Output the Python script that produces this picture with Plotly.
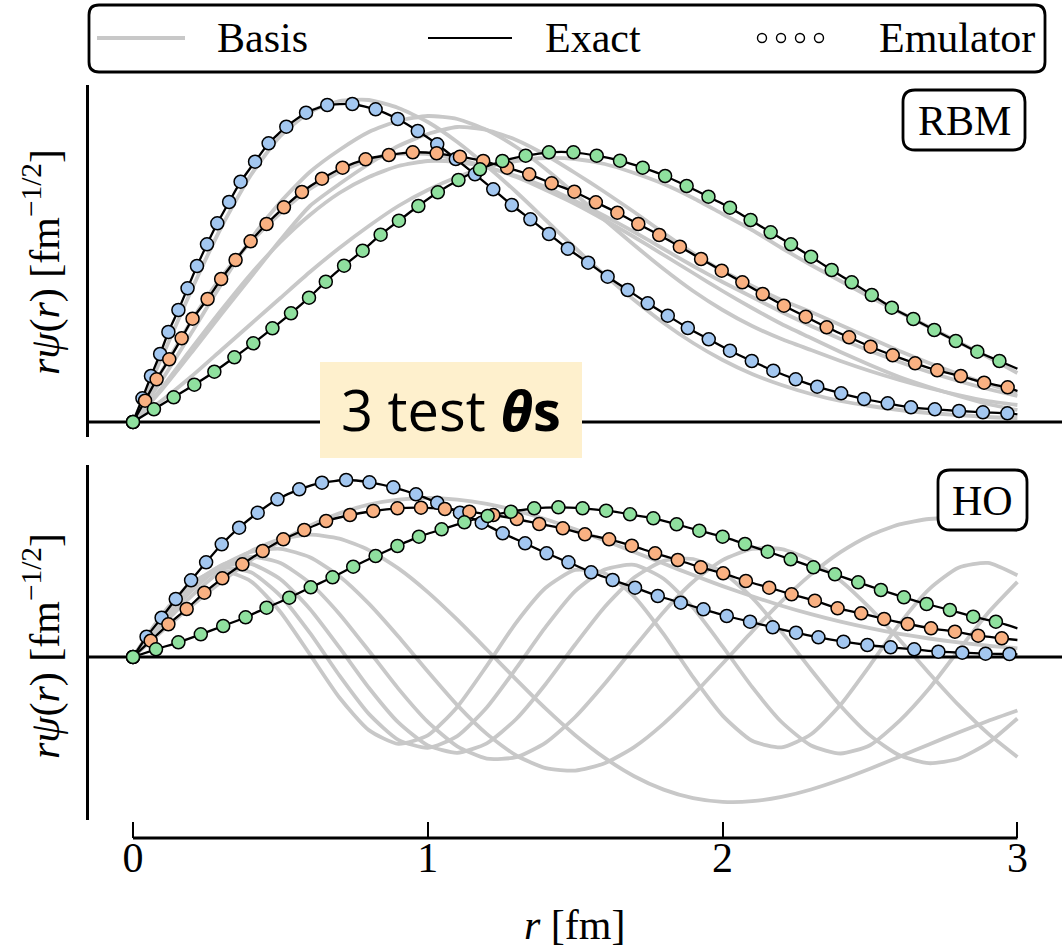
import plotly.graph_objects as go

W, H = 1064, 951

# ---------------- data (display units; rψ(r), arbitrary scale) ----------------
r_grid = [0.0, 0.1, 0.2, 0.3, 0.4, 0.5, 0.6, 0.7, 0.8, 0.9, 1.0, 1.1, 1.2, 1.3, 1.4, 1.5,
          1.6, 1.7, 1.8, 1.9, 2.0, 2.1, 2.2, 2.3, 2.4, 2.5, 2.6, 2.7, 2.8, 2.9, 3.0]

# RBM basis (training snapshots)
rbm_basis_1 = [0, 0.66, 1.33, 1.95, 2.47, 2.86, 3.10, 3.21, 3.22, 3.14, 3.00, 2.80, 2.56, 2.30, 2.02, 1.74,
               1.47, 1.22, 0.99, 0.79, 0.62, 0.48, 0.37, 0.28, 0.21, 0.16, 0.12, 0.09, 0.07, 0.05, 0.04]
rbm_basis_2 = [0, 0.43, 0.90, 1.38, 1.83, 2.20, 2.50, 2.72, 2.90, 3.01, 3.06, 3.03, 2.92, 2.75, 2.53, 2.28,
               2.02, 1.77, 1.53, 1.31, 1.12, 0.96, 0.83, 0.72, 0.61, 0.51, 0.42, 0.34, 0.27, 0.21, 0.17]
rbm_basis_3 = [0, 0.33, 0.70, 1.08, 1.45, 1.82, 2.16, 2.38, 2.58, 2.76, 2.88, 2.95, 2.92, 2.82, 2.67, 2.49,
               2.30, 2.10, 1.89, 1.69, 1.51, 1.36, 1.22, 1.10, 0.97, 0.84, 0.71, 0.59, 0.48, 0.38, 0.29]
rbm_basis_4 = [0, 0.52, 1.02, 1.45, 1.80, 2.09, 2.33, 2.50, 2.62, 2.68, 2.68, 2.63, 2.55, 2.45, 2.32, 2.18,
               2.02, 1.85, 1.67, 1.49, 1.31, 1.14, 0.98, 0.84, 0.70, 0.57, 0.45, 0.35, 0.26, 0.18, 0.12]
rbm_basis_5 = [0, 0.35, 0.74, 1.12, 1.48, 1.80, 2.07, 2.29, 2.45, 2.56, 2.61, 2.60, 2.55, 2.46, 2.35, 2.21,
               2.06, 1.90, 1.73, 1.56, 1.40, 1.25, 1.10, 0.96, 0.83, 0.71, 0.60, 0.50, 0.41, 0.33, 0.26]
rbm_basis_6 = [0, 0.22, 0.46, 0.72, 0.98, 1.24, 1.50, 1.74, 1.96, 2.16, 2.32, 2.45, 2.55, 2.61, 2.64, 2.63,
               2.58, 2.49, 2.38, 2.24, 2.08, 1.92, 1.74, 1.57, 1.41, 1.25, 1.10, 0.95, 0.80, 0.65, 0.49]

# HO basis functions n = 0..6
ho_basis_0 = [0, 0.261, 0.514, 0.752, 0.968, 1.157, 1.314, 1.436, 1.523, 1.573, 1.590, 1.574, 1.531, 1.464,
              1.377, 1.276, 1.166, 1.050, 0.934, 0.819, 0.709, 0.607, 0.513, 0.428, 0.353, 0.288, 0.232,
              0.185, 0.146, 0.113, 0.087]
ho_basis_1 = [0, 0.317, 0.613, 0.865, 1.059, 1.180, 1.223, 1.184, 1.069, 0.886, 0.649, 0.373, 0.075, -0.227,
              -0.517, -0.782, -1.009, -1.192, -1.326, -1.411, -1.448, -1.442, -1.398, -1.325, -1.228, -1.117,
              -0.997, -0.874, -0.754, -0.640, -0.535]
ho_basis_2 = [0, 0.352, 0.666, 0.908, 1.052, 1.082, 0.997, 0.808, 0.534, 0.205, -0.145, -0.481, -0.769,
              -0.985, -1.111, -1.136, -1.063, -0.901, -0.666, -0.379, -0.065, 0.254, 0.557, 0.826, 1.048,
              1.215, 1.326, 1.380, 1.383, 1.343, 1.268]
ho_basis_3 = [0, 0.378, 0.700, 0.919, 1.002, 0.939, 0.739, 0.431, 0.062, -0.316, -0.649, -0.893, -1.016,
              -1.002, -0.856, -0.600, -0.268, 0.097, 0.451, 0.752, 0.969, 1.081, 1.078, 0.968, 0.763, 0.489,
              0.172, -0.159, -0.479, -0.764, -1.000]
ho_basis_4 = [0, 0.398, 0.722, 0.911, 0.931, 0.778, 0.481, 0.096, -0.307, -0.654, -0.884, -0.958, -0.863,
              -0.620, -0.270, 0.125, 0.500, 0.794, 0.961, 0.980, 0.849, 0.593, 0.251, -0.127, -0.487, -0.784,
              -0.983, -1.062, -1.018, -0.862, -0.615]
ho_basis_5 = [0, 0.415, 0.736, 0.892, 0.847, 0.612, 0.241, -0.184, -0.569, -0.828, -0.908, -0.791, -0.505,
              -0.112, 0.301, 0.659, 0.874, 0.922, 0.783, 0.492, 0.106, -0.299, -0.650, -0.885, -0.965, -0.882,
              -0.639, -0.318, 0.065, 0.440, 0.751]
ho_basis_6 = [0, 0.429, 0.745, 0.864, 0.757, 0.450, 0.026, -0.405, -0.731, -0.869, -0.784, -0.499, -0.089,
              0.344, 0.692, 0.871, 0.838, 0.604, 0.228, -0.202, -0.586, -0.838, -0.904, -0.773, -0.478, -0.083,
              0.331, 0.677, 0.893, 0.941, 0.817]

# Test thetas: emulator points (exact curve passes through them), RBM panel
rbm_blue_r = [0, 0.032, 0.061, 0.092, 0.120, 0.154, 0.185, 0.217, 0.251, 0.286, 0.326, 0.365, 0.414, 0.460,
              0.520, 0.587, 0.659, 0.744, 0.823, 0.898, 0.966, 1.032, 1.095, 1.160, 1.222, 1.285, 1.348, 1.411,
              1.475, 1.544, 1.610, 1.678, 1.746, 1.814, 1.882, 1.953, 2.025, 2.099, 2.172, 2.248, 2.321, 2.402,
              2.480, 2.560, 2.639, 2.720, 2.802, 2.883, 2.966]
rbm_blue_y = [0, 0.237, 0.46, 0.68, 0.90, 1.12, 1.337, 1.56, 1.777, 1.987, 2.20, 2.403, 2.603, 2.787, 2.953,
              3.093, 3.17, 3.18, 3.127, 3.03, 2.91, 2.777, 2.63, 2.477, 2.327, 2.17, 2.027, 1.88, 1.733, 1.593,
              1.453, 1.32, 1.187, 1.063, 0.94, 0.827, 0.713, 0.61, 0.513, 0.427, 0.353, 0.287, 0.23, 0.187,
              0.147, 0.127, 0.11, 0.097, 0.087]
rbm_orange_r = [0, 0.041, 0.080, 0.123, 0.165, 0.202, 0.253, 0.299, 0.348, 0.399, 0.453, 0.512, 0.573, 0.641,
                0.711, 0.789, 0.868, 0.949, 1.030, 1.109, 1.188, 1.269, 1.344, 1.420, 1.497, 1.570, 1.643,
                1.714, 1.785, 1.855, 1.927, 1.997, 2.067, 2.136, 2.208, 2.282, 2.353, 2.429, 2.502, 2.577,
                2.653, 2.728, 2.808, 2.887, 2.967]
rbm_orange_y = [0, 0.213, 0.427, 0.627, 0.837, 1.033, 1.23, 1.43, 1.62, 1.807, 1.98, 2.147, 2.30, 2.433,
                2.543, 2.627, 2.67, 2.697, 2.687, 2.653, 2.61, 2.543, 2.477, 2.387, 2.303, 2.197, 2.093, 1.98,
                1.87, 1.753, 1.63, 1.513, 1.397, 1.28, 1.163, 1.053, 0.947, 0.847, 0.753, 0.667, 0.587, 0.517,
                0.46, 0.393, 0.347]
rbm_green_r = [0, 0.071, 0.138, 0.208, 0.276, 0.344, 0.408, 0.473, 0.536, 0.597, 0.654, 0.716, 0.779, 0.840,
               0.902, 0.968, 1.034, 1.104, 1.177, 1.253, 1.332, 1.411, 1.494, 1.573, 1.652, 1.729, 1.805,
               1.878, 1.952, 2.025, 2.095, 2.163, 2.232, 2.300, 2.370, 2.438, 2.506, 2.574, 2.647, 2.718,
               2.791, 2.864, 2.939]
rbm_green_y = [0, 0.127, 0.247, 0.373, 0.503, 0.647, 0.787, 0.937, 1.087, 1.243, 1.403, 1.563, 1.713, 1.873,
               2.013, 2.16, 2.297, 2.42, 2.527, 2.61, 2.663, 2.697, 2.697, 2.663, 2.613, 2.543, 2.46, 2.36,
               2.253, 2.143, 2.02, 1.897, 1.777, 1.653, 1.52, 1.397, 1.27, 1.143, 1.03, 0.92, 0.81, 0.703, 0.61]
rbm_exact_end = [0.077, 0.31, 0.533]   # exact curves at r = 3 (blue, orange, green)

# HO panel
ho_blue_r = [0, 0.046, 0.097, 0.145, 0.197, 0.248, 0.301, 0.360, 0.423, 0.490, 0.564, 0.641, 0.723, 0.802,
             0.883, 0.960, 1.032, 1.109, 1.183, 1.254, 1.330, 1.403, 1.477, 1.554, 1.627, 1.703, 1.780, 1.858,
             1.935, 2.014, 2.093, 2.170, 2.249, 2.325, 2.410, 2.491, 2.570, 2.650, 2.732, 2.813, 2.892, 2.973]
ho_blue_y = [0, 0.203, 0.393, 0.58, 0.767, 0.947, 1.127, 1.293, 1.443, 1.577, 1.677, 1.743, 1.77, 1.747,
             1.697, 1.627, 1.543, 1.443, 1.343, 1.237, 1.137, 1.037, 0.947, 0.847, 0.77, 0.693, 0.61, 0.543,
             0.477, 0.41, 0.353, 0.297, 0.243, 0.197, 0.153, 0.12, 0.097, 0.077, 0.053, 0.043, 0.033, 0.03]
ho_orange_r = [0, 0.060, 0.120, 0.182, 0.242, 0.303, 0.371, 0.440, 0.510, 0.581, 0.655, 0.736, 0.815, 0.897,
               0.977, 1.058, 1.141, 1.222, 1.302, 1.378, 1.458, 1.533, 1.615, 1.692, 1.771, 1.848, 1.926,
               2.002, 2.079, 2.158, 2.234, 2.313, 2.390, 2.470, 2.548, 2.628, 2.707, 2.788, 2.867, 2.947]
ho_orange_y = [0, 0.163, 0.327, 0.48, 0.643, 0.787, 0.927, 1.06, 1.177, 1.27, 1.36, 1.42, 1.46, 1.487, 1.493,
               1.48, 1.453, 1.42, 1.38, 1.33, 1.287, 1.227, 1.177, 1.113, 1.037, 0.97, 0.897, 0.837, 0.76,
               0.693, 0.627, 0.563, 0.487, 0.437, 0.38, 0.33, 0.287, 0.253, 0.213, 0.187]
ho_green_r = [0, 0.078, 0.154, 0.230, 0.306, 0.382, 0.453, 0.530, 0.603, 0.677, 0.747, 0.823, 0.897, 0.970,
              1.047, 1.124, 1.203, 1.282, 1.361, 1.443, 1.525, 1.605, 1.686, 1.765, 1.844, 1.921, 2.000, 2.076,
              2.153, 2.231, 2.308, 2.381, 2.460, 2.537, 2.615, 2.692, 2.771, 2.850, 2.927]
ho_green_y = [0, 0.077, 0.147, 0.227, 0.31, 0.397, 0.493, 0.593, 0.697, 0.797, 0.903, 1.01, 1.11, 1.203,
              1.277, 1.347, 1.41, 1.453, 1.487, 1.497, 1.487, 1.463, 1.427, 1.387, 1.327, 1.263, 1.203, 1.13,
              1.053, 0.977, 0.897, 0.827, 0.747, 0.67, 0.597, 0.53, 0.47, 0.403, 0.353]
ho_exact_end = [0.027, 0.17, 0.287]

r_end = 3.0
x_ticks = [0, 1, 2, 3]
x_tick_labels = ["0", "1", "2", "3"]

# ---------------- styling ----------------
GRAY = "#c8c8c8"
COLORS = ["#a3c7f0", "#f9b182", "#8fe09e"]
SERIF = "Liberation Serif"
FS = 42


def px(x):
    return x / W


def py(y):
    return 1 - y / H


fig = go.Figure()

rbm_basis = [rbm_basis_1, rbm_basis_2, rbm_basis_3, rbm_basis_4, rbm_basis_5, rbm_basis_6]
ho_basis = [ho_basis_0, ho_basis_1, ho_basis_2, ho_basis_3, ho_basis_4, ho_basis_5, ho_basis_6]

panels = [
    ("x", "y", rbm_basis,
     [(rbm_blue_r, rbm_blue_y), (rbm_orange_r, rbm_orange_y), (rbm_green_r, rbm_green_y)], rbm_exact_end),
    ("x2", "y2", ho_basis,
     [(ho_blue_r, ho_blue_y), (ho_orange_r, ho_orange_y), (ho_green_r, ho_green_y)], ho_exact_end),
]

for xa, ya, basis, tests, ends in panels:
    for b in basis:
        fig.add_trace(go.Scatter(x=r_grid, y=b, mode="lines", xaxis=xa, yaxis=ya,
                                 line=dict(color=GRAY, width=3.8, shape="spline", smoothing=0.6),
                                 hoverinfo="skip"))
    # zero line
    fig.add_trace(go.Scatter(x=[-0.3, 3.4], y=[0, 0], mode="lines", xaxis=xa, yaxis=ya,
                             line=dict(color="black", width=3.2), hoverinfo="skip"))
    for (rr, yy), e in zip(tests, ends):
        fig.add_trace(go.Scatter(x=rr + [r_end], y=yy + [e], mode="lines", xaxis=xa, yaxis=ya,
                                 line=dict(color="black", width=2.3, shape="spline", smoothing=0.5),
                                 hoverinfo="skip"))
    for (rr, yy), c in zip(tests, COLORS):
        fig.add_trace(go.Scatter(x=rr, y=yy, mode="markers", xaxis=xa, yaxis=ya,
                                 marker=dict(size=13, color=c, line=dict(color="black", width=1.5)),
                                 hoverinfo="skip"))

x_range = [(89 - 133) / 294.8, (1062 - 133) / 294.8]

fig.update_layout(
    width=W, height=H, margin=dict(l=0, r=0, t=0, b=0),
    paper_bgcolor="white", plot_bgcolor="white", showlegend=False,
    xaxis=dict(domain=[px(89), px(1062)], range=x_range, visible=False, anchor="y"),
    yaxis=dict(domain=[py(437), py(85)], range=[-0.15, 3.37], anchor="x",
               showline=True, linewidth=3.2, linecolor="black", showticklabels=False,
               ticks="", showgrid=False, zeroline=False),
    xaxis2=dict(domain=[px(89), px(1062)], range=x_range, anchor="free", position=py(838),
                showline=False, showgrid=False, zeroline=False, ticks="inside", ticklen=16,
                tickwidth=2.4, tickcolor="black", tickvals=x_ticks, ticktext=x_tick_labels,
                tickfont=dict(family=SERIF, size=FS, color="black"), ticklabelstandoff=-9),
    yaxis2=dict(domain=[py(820), py(465)], range=[-1.63, 1.92], anchor="x2",
                showline=True, linewidth=3.2, linecolor="black", showticklabels=False,
                ticks="", showgrid=False, zeroline=False),
)


def rrect(x0, y0, x1, y1, rad):
    X = px
    Y = py
    return (f"M {X(x0 + rad)},{Y(y0)} L {X(x1 - rad)},{Y(y0)} Q {X(x1)},{Y(y0)} {X(x1)},{Y(y0 + rad)} "
            f"L {X(x1)},{Y(y1 - rad)} Q {X(x1)},{Y(y1)} {X(x1 - rad)},{Y(y1)} "
            f"L {X(x0 + rad)},{Y(y1)} Q {X(x0)},{Y(y1)} {X(x0)},{Y(y1 - rad)} "
            f"L {X(x0)},{Y(y0 + rad)} Q {X(x0)},{Y(y0)} {X(x0 + rad)},{Y(y0)} Z")


shapes = []
# trimmed bottom spine
shapes.append(dict(type="line", xref="x2", yref="paper", x0=0, x1=3, y0=py(838), y1=py(838),
                   line=dict(color="black", width=3.2)))
# legend box
shapes.append(dict(type="path", xref="paper", yref="paper", path=rrect(89, 5, 1045, 72, 10),
                   line=dict(color="black", width=2.8), fillcolor="white"))
shapes.append(dict(type="line", xref="paper", yref="paper", x0=px(97), x1=px(185), y0=py(38), y1=py(38),
                   line=dict(color=GRAY, width=4)))
shapes.append(dict(type="line", xref="paper", yref="paper", x0=px(428), x1=px(512), y0=py(38), y1=py(38),
                   line=dict(color="black", width=2.2)))
for cx in [762, 781, 800, 819]:
    shapes.append(dict(type="circle", xref="paper", yref="paper", x0=px(cx - 4.5), x1=px(cx + 4.5),
                       y0=py(38 + 4.5), y1=py(38 - 4.5), line=dict(color="black", width=1.4),
                       fillcolor="white"))
# RBM / HO boxes
shapes.append(dict(type="path", xref="paper", yref="paper", path=rrect(903, 90, 1025, 150, 12),
                   line=dict(color="black", width=2.8), fillcolor="white"))
shapes.append(dict(type="path", xref="paper", yref="paper", path=rrect(938, 470, 1027, 530, 12),
                   line=dict(color="black", width=2.8), fillcolor="white"))
# "3 test θs" highlight
shapes.append(dict(type="rect", xref="paper", yref="paper", x0=px(320), x1=px(582), y0=py(458), y1=py(362),
                   line=dict(width=0), fillcolor="#fef0cd"))
fig.update_layout(shapes=shapes)

tf = dict(family=SERIF, size=FS, color="black")
ann = [
    dict(text="Basis", x=px(215), y=py(38), xanchor="left", yanchor="middle", font=tf),
    dict(text="Exact", x=px(543), y=py(38), xanchor="left", yanchor="middle", font=tf),
    dict(text="Emulator", x=px(877), y=py(38), xanchor="left", yanchor="middle", font=tf),
    dict(text="RBM", x=px(964), y=py(121), xanchor="center", yanchor="middle", font=tf),
    dict(text="HO", x=px(982), y=py(501), xanchor="center", yanchor="middle", font=tf),
    dict(text="<i>r</i> [fm]", x=px(575), y=py(925), xanchor="center", yanchor="middle", font=tf),
    dict(text="<i>rψ</i>(<i>r</i>) [fm<sup>−1/2</sup>]", x=px(42), y=py(262), textangle=-90,
         xanchor="center", yanchor="middle", font=tf),
    dict(text="<i>rψ</i>(<i>r</i>) [fm<sup>−1/2</sup>]", x=px(42), y=py(646), textangle=-90,
         xanchor="center", yanchor="middle", font=tf),
    dict(text="3 test <b><i>θ</i>s</b>", x=px(451), y=py(409), xanchor="center", yanchor="middle",
         font=dict(family="Open Sans", size=56, color="black")),
]
for a in ann:
    a.update(xref="paper", yref="paper", showarrow=False)
fig.update_layout(annotations=ann)

fig.write_html("out.html")
